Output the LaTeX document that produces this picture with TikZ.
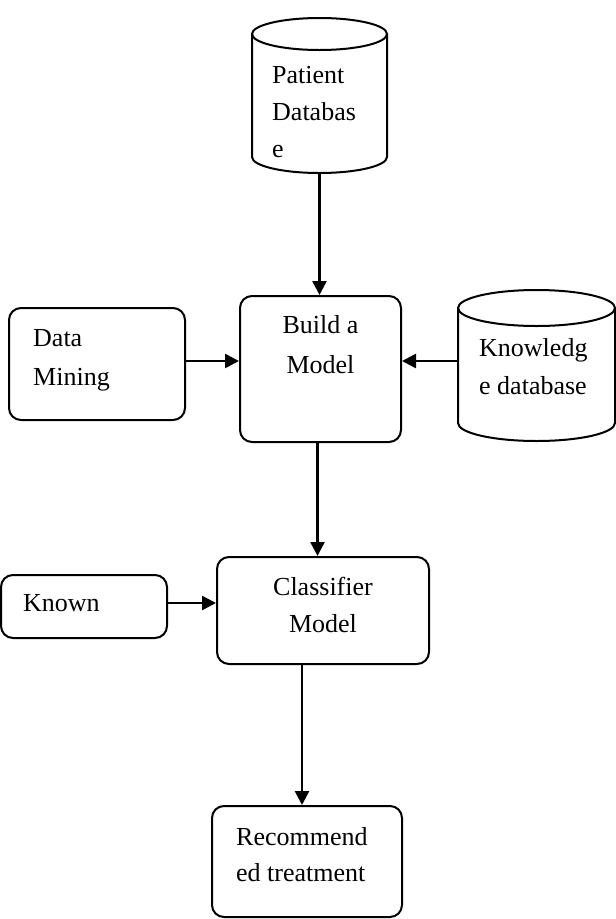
\documentclass[tikz,border=0pt]{standalone}
\usepackage{fontspec}
\setmainfont{Liberation Serif}
\usetikzlibrary{arrows.meta,calc}
\newcommand\tlines[2]{\vtop{\baselineskip=#1\relax\lineskiplimit=-100pt #2}}
\newcommand\cl[1]{\hbox to 0pt{\hss #1\hss}}
\begin{document}
\begin{tikzpicture}[x=1pt,y=1pt,
  line/.style={line width=2pt},
  box/.style={draw,line width=2pt,rounded corners=12pt,inner sep=0pt},
  ghost/.style={inner sep=0pt},
  lbl/.style={inner sep=0pt,font=\fontsize{26}{36}\selectfont},
  arr/.style={line width=2.5pt,-{Triangle[length=14pt,width=14pt]}}]
\useasboundingbox (0,0) rectangle (616,-919);
% Patient database cylinder
\draw[line] (252,-34) -- (252,-157) arc[start angle=180,end angle=360,x radius=67.5,y radius=16] -- (387,-34);
\draw[line] (319.5,-34) ellipse[x radius=67.5,y radius=16];
\node[ghost,minimum width=135pt,minimum height=155pt] (pdb) at (319.5,-95.5) {};
\node[lbl,anchor=base west] (pdbt) at (272,-83) {\tlines{37pt}{\hbox{Patient}\hbox{Databas}\hbox{e}}};
% Knowledge database cylinder
\draw[line] (458,-308) -- (458,-423) arc[start angle=180,end angle=360,x radius=78.5,y radius=18] -- (615,-308);
\draw[line] (536.5,-308) ellipse[x radius=78.5,y radius=18];
\node[ghost,minimum width=157pt,minimum height=151pt] (kdb) at (536.5,-365.5) {};
\node[lbl,anchor=base west] (kdbt) at (479,-356) {\tlines{38pt}{\hbox{Knowledg}\hbox{e database}}};
% Boxes
\node[box,minimum width=161pt,minimum height=146pt] (build) at (320.5,-369) {};
\node[lbl,anchor=base] (buildt) at (320.5,-333) {\tlines{40pt}{\cl{Build a}\cl{Model}}};
\node[box,minimum width=176pt,minimum height=112pt] (data) at (97,-364) {};
\node[lbl,anchor=base west] (datat) at (33,-346) {\tlines{39pt}{\hbox{Data}\hbox{Mining}}};
\node[box,minimum width=212pt,minimum height=107pt] (cls) at (323,-610.5) {};
\node[lbl,anchor=base] (clst) at (323,-595) {\tlines{37pt}{\cl{Classifier}\cl{Model}}};
\node[box,minimum width=166pt,minimum height=63pt] (known) at (84,-606.5) {};
\node[lbl,anchor=base west] (knownt) at (23,-611.5) {Known};
\node[box,minimum width=190pt,minimum height=111pt] (rec) at (307,-861.5) {};
\node[lbl,anchor=base west] (rect) at (236,-845) {\tlines{36pt}{\hbox{Recommend}\hbox{ed treatment}}};
% Connectors
\draw[arr] (pdb.south) -- (pdb.south |- build.north);
\draw[arr] ([yshift=3pt]data.east) -- ([yshift=3pt]data.east -| build.west);
\draw[arr] ([yshift=4.5pt]kdb.west) -- ([yshift=4.5pt]kdb.west -| build.east);
\draw[arr] ([xshift=-3pt]build.south) -- ([xshift=-3pt]build.south |- cls.north);
\draw[arr] ([yshift=3.5pt]known.east) -- ([yshift=3.5pt]known.east -| cls.west);
\draw[arr] ([xshift=-5pt]rec.north |- cls.south) -- ([xshift=-5pt]rec.north);
\end{tikzpicture}
\end{document}
